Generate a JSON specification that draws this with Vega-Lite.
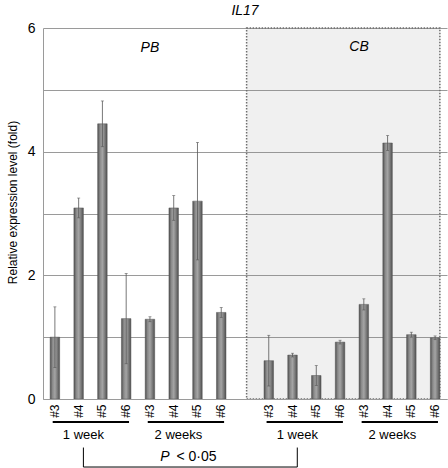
{
  "$schema": "https://vega.github.io/schema/vega-lite/v6.json",
  "width": 404,
  "height": 371,
  "autosize": {"type": "none"},
  "padding": {"left": 43, "top": 28, "right": 1, "bottom": 69},
  "background": "white",
  "title": {"text": "IL17", "fontStyle": "italic", "fontWeight": "normal", "fontSize": 14, "font": "Liberation Sans", "anchor": "middle", "offset": 3, "color": "black"},
  "config": {
    "view": {"stroke": null},
    "font": "Liberation Sans",
    "text": {"font": "Liberation Sans", "color": "black"}
  },
  "datasets": {
    "bars": [
      {"id": "PB|1 week|#3", "tissue": "PB", "week": "1 week", "sample": "#3", "value": 1.00, "err": 0.49},
      {"id": "PB|1 week|#4", "tissue": "PB", "week": "1 week", "sample": "#4", "value": 3.09, "err": 0.16},
      {"id": "PB|1 week|#5", "tissue": "PB", "week": "1 week", "sample": "#5", "value": 4.45, "err": 0.37},
      {"id": "PB|1 week|#6", "tissue": "PB", "week": "1 week", "sample": "#6", "value": 1.30, "err": 0.73},
      {"id": "PB|2 weeks|#3", "tissue": "PB", "week": "2 weeks", "sample": "#3", "value": 1.29, "err": 0.04},
      {"id": "PB|2 weeks|#4", "tissue": "PB", "week": "2 weeks", "sample": "#4", "value": 3.09, "err": 0.20},
      {"id": "PB|2 weeks|#5", "tissue": "PB", "week": "2 weeks", "sample": "#5", "value": 3.20, "err": 0.95},
      {"id": "PB|2 weeks|#6", "tissue": "PB", "week": "2 weeks", "sample": "#6", "value": 1.40, "err": 0.08},
      {"id": "CB|1 week|#3", "tissue": "CB", "week": "1 week", "sample": "#3", "value": 0.62, "err": 0.41},
      {"id": "CB|1 week|#4", "tissue": "CB", "week": "1 week", "sample": "#4", "value": 0.71, "err": 0.03},
      {"id": "CB|1 week|#5", "tissue": "CB", "week": "1 week", "sample": "#5", "value": 0.38, "err": 0.16},
      {"id": "CB|1 week|#6", "tissue": "CB", "week": "1 week", "sample": "#6", "value": 0.92, "err": 0.03},
      {"id": "CB|2 weeks|#3", "tissue": "CB", "week": "2 weeks", "sample": "#3", "value": 1.53, "err": 0.09},
      {"id": "CB|2 weeks|#4", "tissue": "CB", "week": "2 weeks", "sample": "#4", "value": 4.14, "err": 0.12},
      {"id": "CB|2 weeks|#5", "tissue": "CB", "week": "2 weeks", "sample": "#5", "value": 1.04, "err": 0.04},
      {"id": "CB|2 weeks|#6", "tissue": "CB", "week": "2 weeks", "sample": "#6", "value": 0.99, "err": 0.03}
    ],
    "groups": [
      {"label": "1 week", "first": "PB|1 week|#3", "mid": "PB|1 week|#4", "last": "PB|1 week|#6"},
      {"label": "2 weeks", "first": "PB|2 weeks|#3", "mid": "PB|2 weeks|#4", "last": "PB|2 weeks|#6"},
      {"label": "1 week", "first": "CB|1 week|#3", "mid": "CB|1 week|#4", "last": "CB|1 week|#6"},
      {"label": "2 weeks", "first": "CB|2 weeks|#3", "mid": "CB|2 weeks|#4", "last": "CB|2 weeks|#6"}
    ],
    "stat": [
      {"left": "PB|1 week|#4", "right": "CB|1 week|#4", "at": "PB|2 weeks|#5"}
    ]
  },
  "layer": [
    {
      "data": {"values": [{"from": "gap", "to": "CB|2 weeks|#6"}]},
      "mark": {"type": "rect", "fill": "#808080", "fillOpacity": 0.12, "stroke": "#6e6e6e", "strokeDash": [1.5, 1.5], "strokeWidth": 1.5},
      "encoding": {
        "x": {"field": "from", "type": "nominal", "bandPosition": 0.67},
        "x2": {"field": "to", "bandPosition": 1},
        "y": {"datum": 6, "type": "quantitative"},
        "y2": {"datum": 0}
      }
    },
    {
      "data": {"values": [{"region": "PB", "at": "PB|2 weeks|#3"}]},
      "mark": {"type": "text", "fontSize": 14, "fontStyle": "italic", "baseline": "middle", "align": "center"},
      "encoding": {
        "x": {"field": "at", "type": "nominal", "bandPosition": 0.5},
        "y": {"datum": 5.68, "type": "quantitative"},
        "text": {"field": "region"}
      }
    },
    {
      "data": {"values": [{"region": "CB", "at": "CB|2 weeks|#3"}]},
      "mark": {"type": "text", "fontSize": 14, "fontStyle": "italic", "baseline": "middle", "align": "center"},
      "encoding": {
        "x": {"field": "at", "type": "nominal", "bandPosition": 0},
        "y": {"datum": 5.7, "type": "quantitative"},
        "text": {"field": "region"}
      }
    },
    {
      "data": {"name": "bars"},
      "mark": {
        "type": "bar",
        "stroke": "#555555",
        "strokeWidth": 0.5,
        "fill": {"gradient": "linear", "x1": 0, "y1": 0, "x2": 1, "y2": 0, "stops": [
          {"offset": 0, "color": "#4f4f4f"},
          {"offset": 0.25, "color": "#8a8a8a"},
          {"offset": 0.5, "color": "#a4a4a4"},
          {"offset": 0.75, "color": "#7c7c7c"},
          {"offset": 1, "color": "#4f4f4f"}
        ]}
      },
      "encoding": {
        "x": {
          "field": "id", "type": "nominal",
          "scale": {
            "domain": ["PB|1 week|#3", "PB|1 week|#4", "PB|1 week|#5", "PB|1 week|#6", "PB|2 weeks|#3", "PB|2 weeks|#4", "PB|2 weeks|#5", "PB|2 weeks|#6", "gap", "CB|1 week|#3", "CB|1 week|#4", "CB|1 week|#5", "CB|1 week|#6", "CB|2 weeks|#3", "CB|2 weeks|#4", "CB|2 weeks|#5", "CB|2 weeks|#6"],
            "paddingInner": 0.6,
            "paddingOuter": 0.3
          },
          "axis": {
            "title": null,
            "labelAngle": -90,
            "labelAlign": "right",
            "labelBaseline": "middle",
            "labelPadding": 5,
            "labelFontSize": 12,
            "labelColor": "black",
            "labelOverlap": false,
            "ticks": false,
            "domainColor": "#9a9a9a",
            "labelExpr": "datum.value == 'gap' ? '' : split(datum.value, '|')[2]"
          }
        },
        "y": {
          "field": "value", "type": "quantitative",
          "title": "Relative expression level (fold)",
          "scale": {"domain": [0, 6], "nice": false},
          "axis": {
            "titleFontSize": 12,
            "titleFontWeight": "normal",
            "titleColor": "black",
            "titlePadding": 8,
            "titleY": 174,
            "values": [0, 1, 2, 3, 4, 5, 6],
            "format": "d",
            "labelExpr": "datum.value % 2 == 0 ? datum.label : ''",
            "labelFontSize": 14,
            "labelColor": "black",
            "labelPadding": 8,
            "ticks": false,
            "grid": true,
            "gridColor": "#9a9a9a",
            "gridWidth": 1,
            "domainColor": "#9a9a9a"
          }
        }
      }
    },
    {
      "data": {"name": "bars"},
      "mark": {"type": "errorbar", "color": "#555555", "thickness": 0.8, "ticks": {"size": 3, "thickness": 0.8, "color": "#555555"}},
      "encoding": {
        "x": {"field": "id", "type": "nominal"},
        "y": {"field": "value", "type": "quantitative", "title": "Relative expression level (fold)"},
        "yError": {"field": "err"}
      }
    },
    {
      "data": {"name": "groups"},
      "mark": {"type": "rule", "strokeWidth": 2, "color": "black"},
      "encoding": {
        "x": {"field": "first", "type": "nominal", "bandPosition": 0.27},
        "x2": {"field": "last", "bandPosition": 0.8},
        "y": {"datum": -0.372, "type": "quantitative"}
      }
    },
    {
      "data": {"name": "groups"},
      "mark": {"type": "text", "fontSize": 13, "baseline": "middle", "align": "center"},
      "encoding": {
        "x": {"field": "mid", "type": "nominal", "bandPosition": 1},
        "y": {"datum": -0.58, "type": "quantitative"},
        "text": {"field": "label"}
      }
    },
    {
      "data": {"name": "stat"},
      "mark": {"type": "rule", "strokeWidth": 1, "color": "black"},
      "encoding": {
        "x": {"field": "left", "type": "nominal", "bandPosition": 1},
        "y": {"datum": -0.785, "type": "quantitative"},
        "y2": {"datum": -1.1}
      }
    },
    {
      "data": {"name": "stat"},
      "mark": {"type": "rule", "strokeWidth": 1, "color": "black"},
      "encoding": {
        "x": {"field": "right", "type": "nominal", "bandPosition": 1},
        "y": {"datum": -0.785, "type": "quantitative"},
        "y2": {"datum": -1.1}
      }
    },
    {
      "data": {"name": "stat"},
      "mark": {"type": "rule", "strokeWidth": 1, "color": "black"},
      "encoding": {
        "x": {"field": "left", "type": "nominal", "bandPosition": 1},
        "x2": {"field": "right", "bandPosition": 1},
        "y": {"datum": -1.1, "type": "quantitative"}
      }
    },
    {
      "data": {"name": "stat"},
      "mark": {"type": "text", "fontSize": 14, "fontStyle": "italic", "baseline": "middle", "align": "right", "dx": -28},
      "encoding": {
        "x": {"field": "at", "type": "nominal", "bandPosition": 0.5},
        "y": {"datum": -0.933, "type": "quantitative"},
        "text": {"value": "P"}
      }
    },
    {
      "data": {"name": "stat"},
      "mark": {"type": "text", "fontSize": 14, "baseline": "middle", "align": "left", "dx": -21},
      "encoding": {
        "x": {"field": "at", "type": "nominal", "bandPosition": 0.5},
        "y": {"datum": -0.933, "type": "quantitative"},
        "text": {"value": "< 0·05"}
      }
    }
  ]
}
